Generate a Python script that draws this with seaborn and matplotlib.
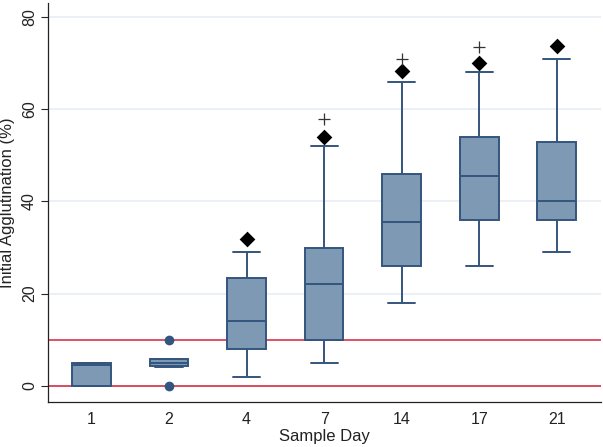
import pandas as pd
import numpy as np
import matplotlib
matplotlib.use("Agg")
import matplotlib.pyplot as plt
import seaborn as sns

days = ["1", "2", "4", "7", "14", "17", "21"]

# per-day values chosen so that the box stats match the figure
day1 = [0, 0, 4.6, 5, 5]
day2 = [0, 4, 4.4, 4.4, 5, 5.9, 5.9, 5.9, 10]
day4 = [2, 8, 14, 23.5, 29]
day7 = [5, 10, 22, 30, 52]
day14 = [18, 26, 35.5, 46, 66]
day17 = [26, 36, 45.5, 54, 68]
day21 = [29, 36, 40, 53, 71]

diamond_days = ["4", "7", "14", "17", "21"]
diamond_vals = [31.9, 54.0, 68.4, 70.1, 73.7]
plus_days = ["7", "14", "17"]
plus_vals = [57.9, 71.0, 73.6]

ref_lines = [0, 10]

values = [day1, day2, day4, day7, day14, day17, day21]
df = pd.DataFrame({
    "day": np.repeat(days, [len(v) for v in values]),
    "agg": np.concatenate(values),
})
dia = pd.DataFrame({"day": diamond_days, "agg": diamond_vals})
plu = pd.DataFrame({"day": plus_days, "agg": plus_vals})

edge = "#34557e"
fill = "#7d99b3"

sns.set_style("white")
plt.rcParams["font.family"] = ["Liberation Sans", "DejaVu Sans"]
fig = plt.figure(figsize=(6.03, 4.47), dpi=100)
ax = fig.add_axes([0.0796, 0.1007, 0.917, 0.892])

ax.set_yticks([0, 20, 40, 60, 80])
ax.grid(axis="y", color="#e6edf3", linewidth=1.2)
ax.set_axisbelow(True)
for v in ref_lines:
    ax.axhline(v, color="#d4203a", linewidth=1.1, zorder=1)

sns.boxplot(data=df, x="day", y="agg", order=days, ax=ax, width=0.5,
            color=fill, linecolor=edge, linewidth=1.4, saturation=1,
            capwidths=0.35,
            flierprops=dict(marker="o", markerfacecolor=edge,
                            markeredgecolor=edge, markersize=6))
sns.stripplot(data=dia, x="day", y="agg", order=days, ax=ax, jitter=False,
              marker="D", color="black", size=8, zorder=5)
sns.stripplot(data=plu, x="day", y="agg", order=days, ax=ax, jitter=False,
              marker="+", color="#333333", size=9, linewidth=0.9, zorder=5)

ax.set_xlim(-0.56, 6.57)
ax.set_ylim(-3.5, 83)
ax.set_xlabel("Sample Day", fontsize=12, color="#222222", labelpad=1)
ax.set_ylabel("Initial Agglutination (%)", fontsize=12, color="#222222",
              labelpad=5)
ax.tick_params(axis="y", left=True, length=5, width=0.8, labelsize=11.5,
               labelcolor="#222222", pad=3)
ax.tick_params(axis="x", bottom=False, labelsize=11.5, labelcolor="#222222",
               pad=4)
for lab in ax.get_yticklabels():
    lab.set_rotation(90)
    lab.set_va("center")
for s in ["top", "right"]:
    ax.spines[s].set_visible(False)
for s in ["left", "bottom"]:
    ax.spines[s].set_color("#222222")
    ax.spines[s].set_linewidth(0.9)

fig.savefig("out.png", dpi=100)
